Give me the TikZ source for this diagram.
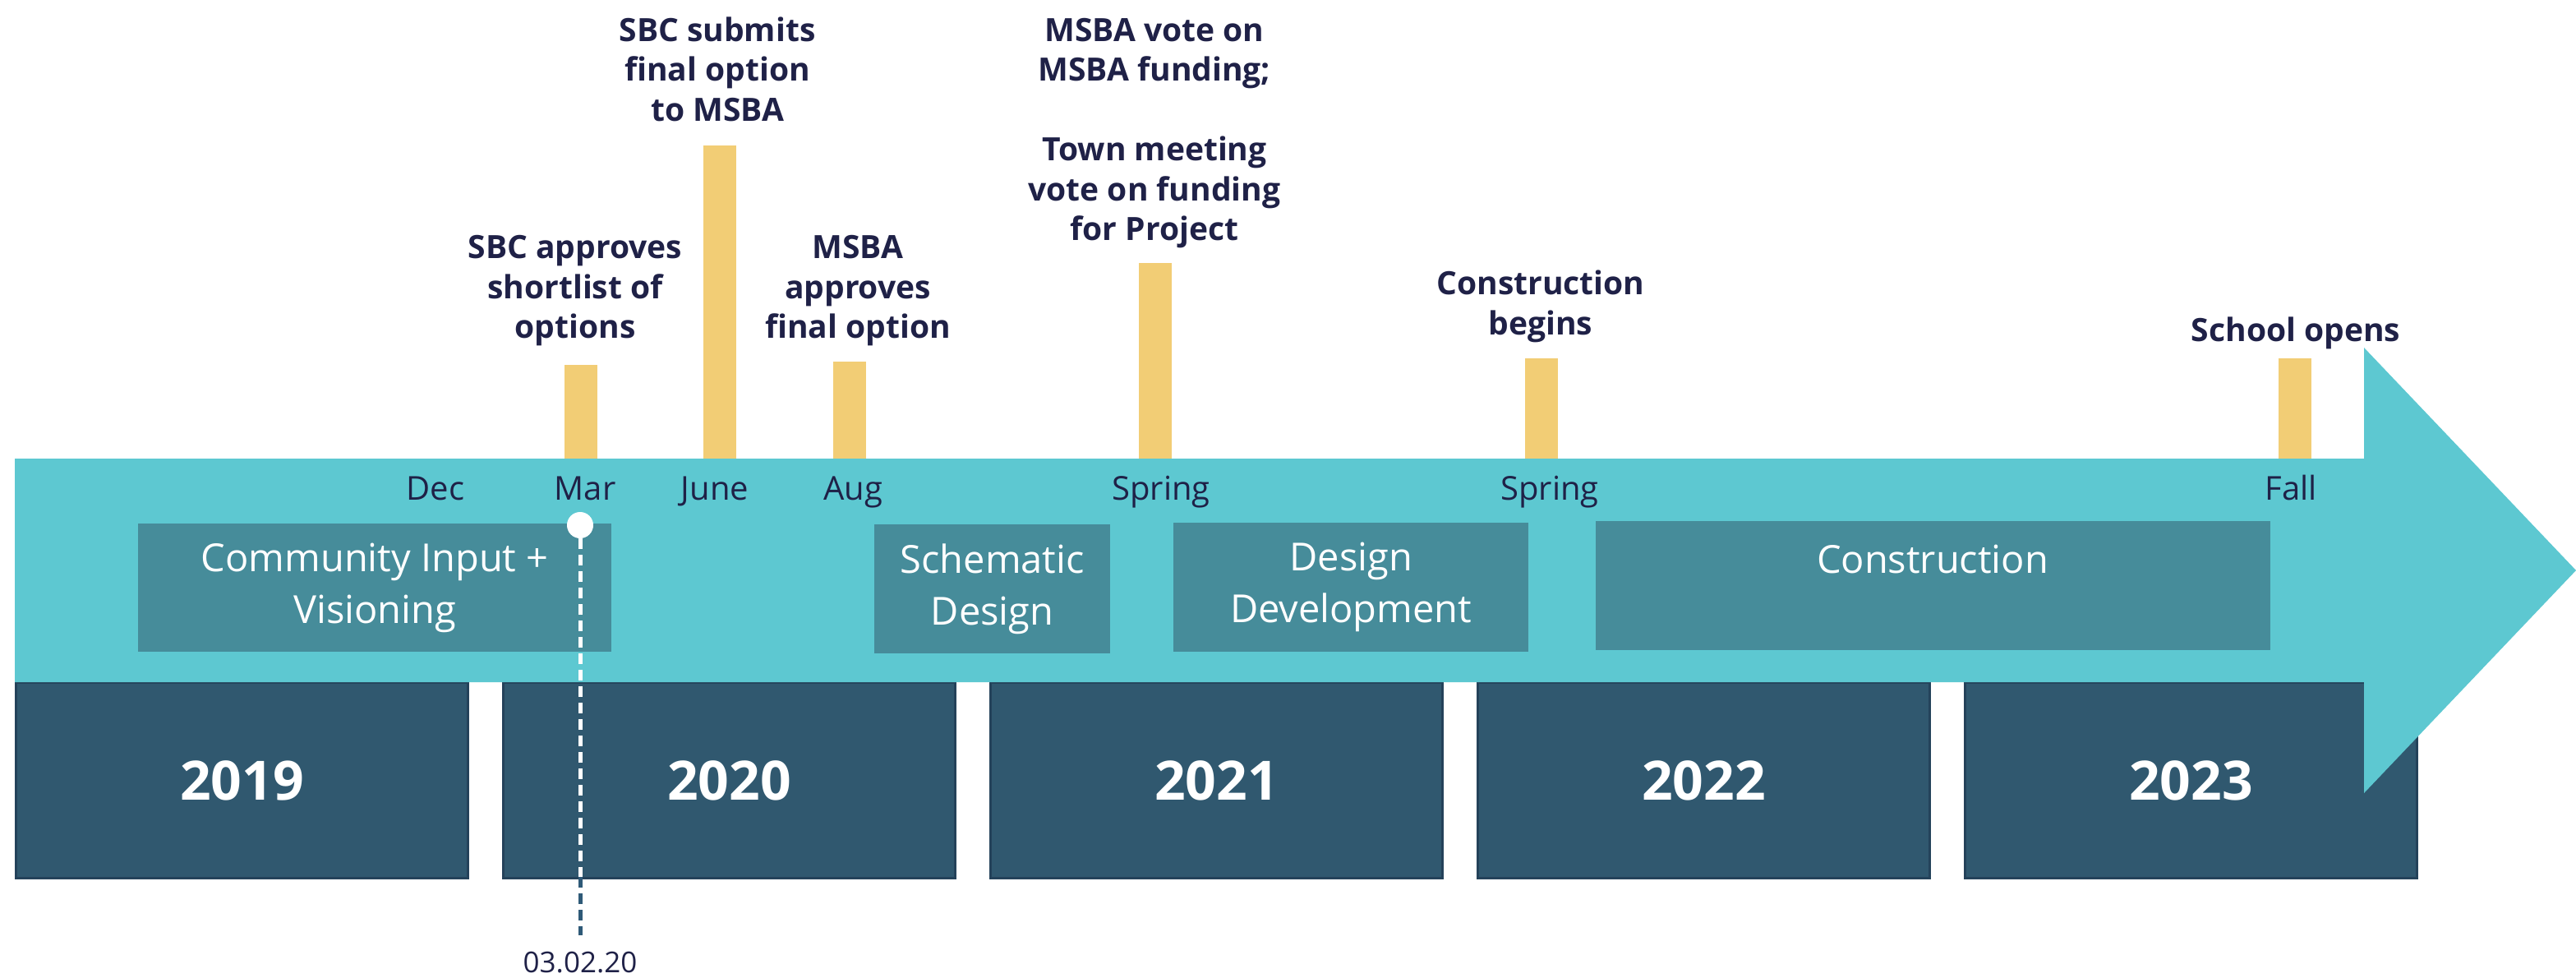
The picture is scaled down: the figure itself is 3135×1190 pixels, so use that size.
\documentclass[tikz,border=0pt]{standalone}
\usepackage{fontspec}
\setmainfont{Open Sans}
\usepackage{tikz}

\definecolor{bandcyan}{HTML}{5DC8D1}
\definecolor{phaseteal}{HTML}{468C9A}
\definecolor{yearblue}{HTML}{30586F}
\definecolor{yearline}{HTML}{24425A}
\definecolor{baryellow}{HTML}{F2CD75}
\definecolor{navytext}{HTML}{1F2147}
\definecolor{datedash}{HTML}{2F5A78}

\tikzset{
  phasetext/.style={text=white, align=center, inner sep=0pt, font=\fontsize{47}{63}\selectfont},
  phasebox/.style={phasetext, fill=phaseteal, anchor=north west},
  yearbox/.style={fill=yearblue, draw=yearline, line width=3pt, text=white, inner sep=0pt,
    anchor=north west, minimum width=550pt, minimum height=238pt, font=\fontsize{66}{70}\selectfont\bfseries},
  monthlabel/.style={text=navytext, anchor=base, inner sep=0pt, font=\fontsize{40}{48}\selectfont},
  milestone/.style={text=navytext, align=center, inner sep=0pt, font=\fontsize{39}{48.5}\selectfont\bfseries},
  datedashes/.style={line width=5pt, dash pattern=on 13pt off 7pt}
}

\begin{document}
\begin{tikzpicture}[x=1pt, y=-1pt]
\useasboundingbox (0,0) rectangle (3135,1190);

\foreach \yr [count=\i from 0] in {2019,2020,2021,2022,2023}
  \node[yearbox] (y\yr) at (18+\i*593,829) {\yr};

\fill[bandcyan] (18,558) -- (2877,558) -- (2877,423) -- (3135,694) -- (2877,965) -- (2877,830) -- (18,830) -- cycle;

\node[phasebox, minimum width=576pt, minimum height=156pt] (community) at (168,637) {Community Input +\\Visioning};
\node[phasebox, minimum width=287pt, minimum height=157pt] (schematic) at (1064,638) {Schematic\\Design};
\node[phasebox, minimum width=432pt, minimum height=157pt] (development) at (1428,636) {Design\\Development};
\node[phasebox, minimum width=821pt, minimum height=157pt] (construction) at (1942,634) {};
\node[phasetext] (constructiontext) at (2352,680) {Construction};

\foreach \x/\top in {707/444, 876/177, 1034/440, 1406/320, 1876/436, 2793/436}
  \fill[baryellow] (\x-20,\top) rectangle (\x+20,558);

\node[milestone] (shortlist) at (700,354) {SBC approves\\shortlist of\\options};
\node[milestone] (submit) at (873,84) {SBC submits\\final option\\to MSBA};
\node[milestone] (approve) at (1044,354) {MSBA\\approves\\final option};
\node[milestone] (vote) at (1405,162) {MSBA vote on\\MSBA funding;\\[48.5pt]Town meeting\\vote on funding\\for Project};
\node[milestone] (buildstart) at (1875,373) {Construction\\begins};
\node[milestone] (opens) at (2794,405) {School opens};

\foreach \name/\x/\txt in {dec/530/Dec, mar/712/Mar, june/870/June, aug/1038/Aug,
    spring/1413/Spring, laterspring/1886/Spring, fall/2788/Fall}
  \node[monthlabel] (\name) at (\x,608) {\txt};

\node[circle, fill=white, inner sep=0pt, minimum size=32pt] (marchdot) at (706,639) {};
\node[text=navytext, inner sep=0pt, font=\fontsize{35}{40}\selectfont] (datelabel) at (706,1171) {03.02.20};
\coordinate (yearedge) at (706,1067);
\draw[white, datedashes] (marchdot.south) -- (yearedge);
\draw[datedash, datedashes, shorten >=20pt] (yearedge) -- (datelabel.north);
\end{tikzpicture}
\end{document}
